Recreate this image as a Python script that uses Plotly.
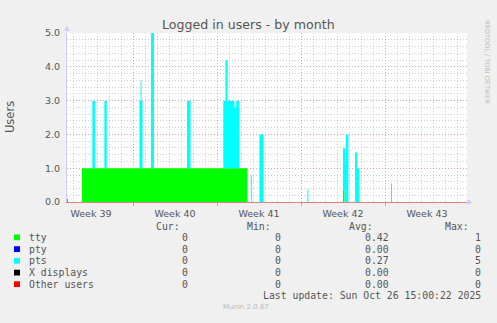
import plotly.graph_objects as go

# ---- data ----
times = [
    "2025-09-23 12:00", "2025-09-23 14:00", "2025-09-24 18:00",
    "2025-09-25 14:45", "2025-09-25 20:00", "2025-09-26 14:45", "2025-09-26 19:35",
    "2025-09-29 12:50", "2025-09-29 15:10", "2025-09-29 17:10", "2025-09-29 19:10",
    "2025-09-30 12:00", "2025-09-30 18:00", "2025-10-03 12:00", "2025-10-03 19:10",
    "2025-10-06 12:35", "2025-10-06 16:50", "2025-10-06 21:10", "2025-10-07 10:50",
    "2025-10-07 14:25", "2025-10-07 20:50", "2025-10-08 12:50", "2025-10-08 19:35",
    "2025-10-08 21:35", "2025-10-09 12:50", "2025-10-09 21:10", "2025-10-13 12:50",
    "2025-10-13 14:50", "2025-10-16 12:00", "2025-10-16 15:10", "2025-10-16 16:50",
    "2025-10-16 18:00", "2025-10-16 22:50", "2025-10-17 12:00", "2025-10-17 16:00",
    "2025-10-17 20:50", "2025-10-20 12:00", "2025-10-20 14:00", "2025-10-26 15:00",
]
tty = [
    0.1, 0, 1,
    1, 1, 1, 1,
    1, 1, 1, 1,
    1, 1, 1, 1,
    1, 1, 1, 1,
    1, 1, 0, 0,
    0, 0, 0, 0,
    0, 0.37, 0, 0,
    0, 0, 0, 0,
    0, 0, 0, 0,
]
pts = [
    0, 0, 0,
    2, 0, 2, 0,
    2, 2.6, 2, 0,
    4, 0, 2, 0,
    2, 3.2, 2, 1.8,
    2, 0, 0, 0.8,
    0, 2, 0, 0.37,
    0, 1.22, 1.59, 1.1,
    2.0, 0, 1.47, 1.0,
    0, 0.55, 0, 0,
]
zeros = [0] * len(times)
series = [
    ("tty", tty, "#00FF00"),
    ("pty", zeros, "#0000FF"),
    ("pts", pts, "#00FFFF"),
    ("X displays", zeros, "#000000"),
    ("Other users", zeros, "#FF0000"),
]
legend_cur = ["0", "0", "0", "0", "0"]
legend_min = ["0", "0", "0", "0", "0"]
legend_avg = ["0.42", "0.00", "0.27", "0.00", "0.00"]
legend_max = ["1", "0", "5", "0", "0"]

W, H = 497, 323
PX_L, PX_R, PX_T, PX_B = 67, 467, 28, 203

def px(x):
    return x / W

def py(y):
    return 1 - y / H

fig = go.Figure()
for name, vals, col in series:
    fig.add_trace(go.Scatter(
        x=times, y=vals, name=name, stackgroup="one", mode="lines",
        line=dict(width=0, shape="hv", color=col), fillcolor=col,
        showlegend=False, hoverinfo="skip",
    ))

grid_minor = "rgba(150,150,150,0.45)"
grid_major = "rgba(220,110,110,0.65)"
txt = "#555555"

fig.update_layout(
    width=W, height=H,
    margin=dict(l=0, r=0, t=0, b=0),
    paper_bgcolor="#F0F0F0", plot_bgcolor="#FFFFFF",
    font=dict(family="DejaVu Sans", size=9.5, color=txt),
    xaxis=dict(
        domain=[px(PX_L), px(PX_R)], type="date",
        range=["2025-09-23 12:00", "2025-10-26 20:00"],
        tick0="2025-09-22", dtick=7 * 86400000,
        ticklabelmode="period", tickformat="Week %V",
        showgrid=True, gridcolor=grid_major, griddash="1px,2px", gridwidth=1,
        ticks="outside", ticklen=3, tickcolor=grid_major,
        showline=True, linecolor="#E08080", linewidth=1,
        minor=dict(dtick=86400000, tick0="2025-09-22", showgrid=True,
                   gridcolor=grid_minor, griddash="1px,2px", ticks=""),
        zeroline=False, fixedrange=True,
        tickfont=dict(size=9.5, color=txt),
    ),
    yaxis=dict(
        domain=[py(PX_B), py(PX_T)], range=[0, 5], dtick=1, tickformat=".1f",
        showgrid=True, gridcolor=grid_major, griddash="1px,2px",
        minor=dict(dtick=0.2, showgrid=True, gridcolor=grid_minor,
                   griddash="1px,2px"),
        showline=True, linecolor="#CCCCFF", linewidth=1,
        ticks="", ticklabelstandoff=4, zeroline=False, fixedrange=True,
        tickfont=dict(size=9.5, color=txt),
    ),
)

ann = []
def add(text, x, y, xa="left", size=9.8, color=txt, family="DejaVu Sans Mono", angle=0):
    ann.append(dict(text=text, x=px(x), y=py(y), xref="paper", yref="paper",
                    xanchor=xa, yanchor="middle", showarrow=False, textangle=angle,
                    font=dict(family=family, size=size, color=color)))

# title and axis title
add("Logged in users - by month", 248.5, 19, xa="center", size=12.6, family="DejaVu Sans")
add("Users", 10, 115, xa="center", size=11.5, family="DejaVu Sans", angle=-90)
add("RRDTOOL / TOBI OETIKER", 487, 58, xa="center", size=6.5, color="#BBBBBB",
    family="DejaVu Sans", angle=90)
# axis arrows
add("▲", 67, 23, xa="center", size=7, color="#CCCCFF", family="DejaVu Sans")
add("▶", 470, 203, xa="center", size=7, color="#CCCCFF", family="DejaVu Sans")

# legend table
add("Cur:", 181.5, 228, xa="right")
add("Min:", 272.5, 228, xa="right")
add("Avg:", 374.5, 228, xa="right")
add("Max:", 471, 228, xa="right")
rows_y = [239.5, 251.7, 263.8, 276, 288]
shapes = []
for i, (name, vals, col) in enumerate(series):
    y = rows_y[i]
    shapes.append(dict(type="rect", xref="paper", yref="paper",
                       x0=px(14), x1=px(20), y0=py(y + 3), y1=py(y - 3),
                       fillcolor=col, line=dict(width=0)))
    add(name, 26.5, y)
    add(legend_cur[i], 189.5, y, xa="right")
    add(legend_min[i], 282.5, y, xa="right")
    add(legend_avg[i], 391, y, xa="right")
    add(legend_max[i], 483, y, xa="right")
add("Last update: Sun Oct 26 15:00:22 2025", 483, 300, xa="right")
add("Munin 2.0.67", 246, 312, xa="center", size=7, color="#BBBBBB", family="DejaVu Sans")

fig.update_layout(annotations=ann, shapes=shapes)
fig.write_html("out.html")
